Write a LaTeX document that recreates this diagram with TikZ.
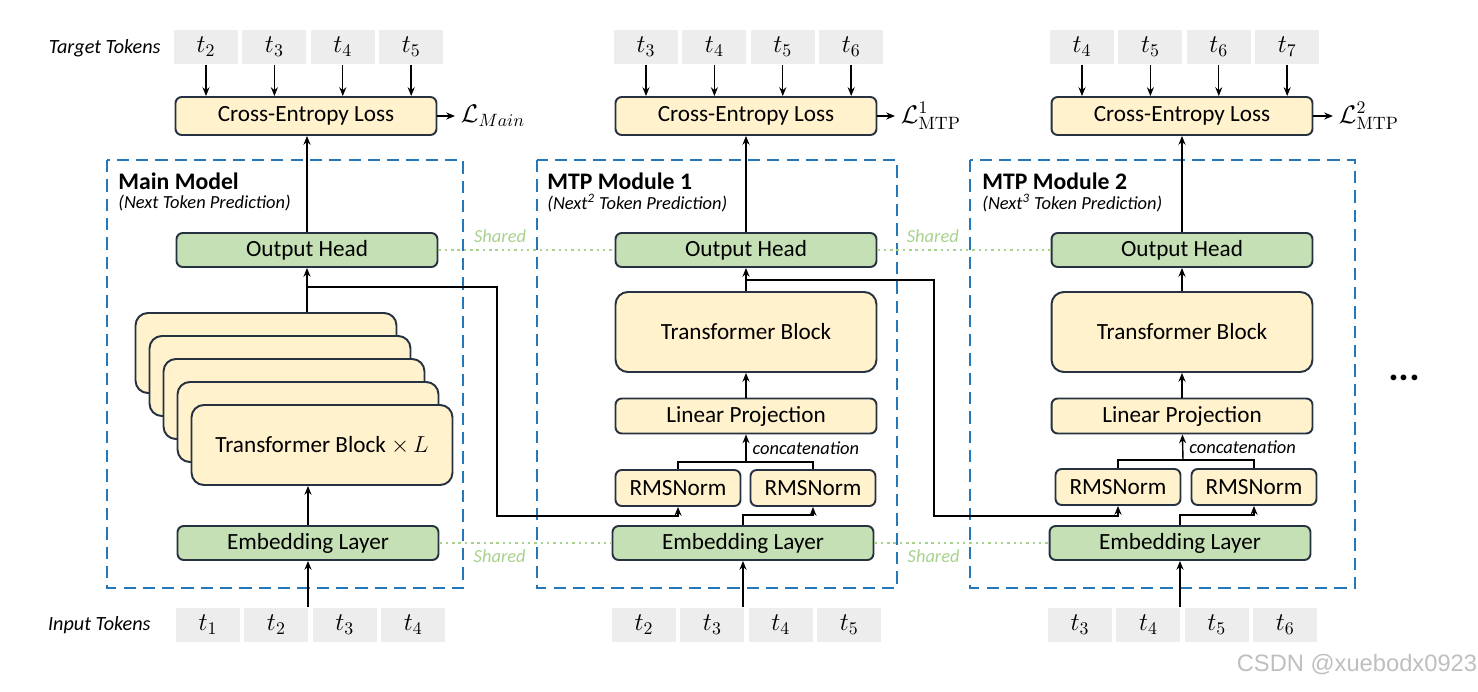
\RequirePackage{fix-cm}
\documentclass[tikz,border=0pt]{standalone}
\usepackage[no-math]{fontspec}
\setmainfont{Carlito}
\newfontfamily\wmfont{Liberation Sans}
\usetikzlibrary{arrows.meta,positioning}
\definecolor{bordc}{RGB}{38,50,66}
\definecolor{ylwc}{RGB}{255,242,204}
\definecolor{grnc}{RGB}{197,224,180}
\definecolor{tokc}{RGB}{237,237,237}
\definecolor{bluc}{RGB}{36,120,185}
\definecolor{shrc}{RGB}{169,209,142}

\begin{document}
\begin{tikzpicture}[x=0.02cm,y=-0.02cm,>={Stealth[length=5pt,width=4pt]},line width=0.8pt,
 font=\fontsize{13.2}{15}\selectfont,
 blk/.style={draw=bordc,line width=1.1pt,rounded corners=3.5pt,minimum width=5.22cm,minimum height=0.76cm,fill=ylwc},
 hd/.style={blk,fill=grnc,minimum height=0.68cm},
 tb/.style={blk,rounded corners=7pt,minimum height=1.6cm},
 rms/.style={blk,minimum width=2.5cm,minimum height=0.72cm},
 tok/.style={fill=tokc,minimum width=1.28cm,minimum height=0.68cm,inner sep=0pt,font=\fontsize{14.5}{16}\selectfont},
 mdl/.style={draw=bluc,line width=1.5pt,dash pattern=on 7pt off 4pt},
 shr/.style={draw=shrc,line width=1.4pt,dash pattern=on 1.4pt off 2.2pt},
 shl/.style={text=shrc,font=\fontsize{10.5}{12}\selectfont\itshape},
 cattxt/.style={font=\fontsize{10.5}{12}\selectfont\itshape},
 ttl/.style={anchor=west,inner sep=1pt,font=\fontsize{13.5}{15}\selectfont\bfseries},
 sub/.style={anchor=west,inner sep=1pt,font=\fontsize{10.5}{12}\selectfont\itshape},
 lbl/.style={anchor=east,inner sep=1pt,font=\fontsize{11.5}{13}\selectfont\itshape},
 loss/.style={anchor=west,inner sep=3pt,font=\fontsize{14.5}{16}\selectfont}]
\useasboundingbox (0,0) rectangle (1478,692);
% main model
\node[lbl] (tgt) at (163,48) {Target Tokens};
\node[tok] (tg0a) at (206,47) {$t_2$};
\node[tok,right=0.06cm of tg0a] (tg0b) {$t_3$};
\node[tok,right=0.06cm of tg0b] (tg0c) {$t_4$};
\node[tok,right=0.06cm of tg0c] (tg0d) {$t_5$};
\node[blk] (ce0) at (306,116) {Cross-Entropy Loss};
\node[loss] (loss0) at (455,116) {$\mathcal{L}_{Main}$};
\draw[mdl] (107,160) rectangle (463,588);
\node[ttl] (ttl0) at (116,181) {Main Model};
\node[sub] (sub0) at (116,203) {(Next Token Prediction)};
\node[hd] (head0) at (307,250) {Output Head};
\node[tb] (tb0a) at (266,353) {};
\node[tb] (tb0b) at (280,376) {};
\node[tb] (tb0c) at (294,399) {};
\node[tb] (tb0d) at (308,422) {};
\node[tb] (tb0e) at (322,445) {Transformer Block $\times\,L$};
\node[hd] (emb0) at (308,543) {Embedding Layer};
\node[lbl] (inp) at (153,625) {Input Tokens};
\node[tok] (in0a) at (208,625) {$t_1$};
\node[tok,right=0.06cm of in0a] (in0b) {$t_2$};
\node[tok,right=0.06cm of in0b] (in0c) {$t_3$};
\node[tok,right=0.06cm of in0c] (in0d) {$t_4$};
\draw[->] (tg0a) -- (tg0a |- ce0.north); \draw[->] (tg0b) -- (tg0b |- ce0.north);
\draw[->] (tg0c) -- (tg0c |- ce0.north); \draw[->] (tg0d) -- (tg0d |- ce0.north);
\draw[->] (ce0) -- (loss0);
\draw[->] (head0.north) -- (head0.north |- ce0.south);
\draw[->] (head0.south |- tb0a.north) -- (head0.south);
\draw[->] (emb0.north) -- (emb0.north |- tb0e.south);
\draw[->] (emb0.south |- in0c.north) -- (emb0.south);
% mtp module 1
\node[tok] (tg1a) at (646,47) {$t_3$};
\node[tok,right=0.06cm of tg1a] (tg1b) {$t_4$};
\node[tok,right=0.06cm of tg1b] (tg1c) {$t_5$};
\node[tok,right=0.06cm of tg1c] (tg1d) {$t_6$};
\node[blk] (ce1) at (746,116) {Cross-Entropy Loss};
\node[loss] (loss1) at (895,116) {$\mathcal{L}^{1}_{\mathrm{MTP}}$};
\draw[mdl] (537,160) rectangle (897,588);
\node[ttl] (ttl1) at (545,181) {MTP Module 1};
\node[sub] (sub1) at (545,203) {(Next\textsuperscript{2} Token Prediction)};
\node[hd] (head1) at (746,250) {Output Head};
\node[tb] (tb1) at (746,332) {Transformer Block};
\node[blk,minimum height=0.7cm] (lp1) at (746,416) {Linear Projection};
\node[rms] (rms1a) at (678,488) {RMSNorm};
\node[rms] (rms1b) at (813,488) {RMSNorm};
\node[hd] (emb1) at (743,543) {Embedding Layer};
\node[tok] (in1a) at (644,625) {$t_2$};
\node[tok,right=0.06cm of in1a] (in1b) {$t_3$};
\node[tok,right=0.06cm of in1b] (in1c) {$t_4$};
\node[tok,right=0.06cm of in1c] (in1d) {$t_5$};
\draw[->] (tg1a) -- (tg1a |- ce1.north); \draw[->] (tg1b) -- (tg1b |- ce1.north);
\draw[->] (tg1c) -- (tg1c |- ce1.north); \draw[->] (tg1d) -- (tg1d |- ce1.north);
\draw[->] (ce1) -- (loss1);
\draw[->] (head1) -- (ce1); \draw[->] (tb1) -- (head1); \draw[->] (lp1) -- (tb1);
\coordinate (cat1) at (746,462);
\draw (rms1a) |- (cat1) -| (rms1b);
\draw[->] (cat1) -- (lp1) node[cattxt,midway,right] {concatenation};
\draw[->] (emb1.north) -- ++(0,-10) -| (rms1b);
\draw[->] (emb1.south |- in1c.north) -- (emb1.south);
\coordinate (br0) at (307,287);
\draw[->] (br0) -| (497,516) -| (rms1a);
% mtp module 2
\node[tok] (tg2a) at (1082,47) {$t_4$};
\node[tok,right=0.06cm of tg2a] (tg2b) {$t_5$};
\node[tok,right=0.06cm of tg2b] (tg2c) {$t_6$};
\node[tok,right=0.06cm of tg2c] (tg2d) {$t_7$};
\node[blk] (ce2) at (1182,116) {Cross-Entropy Loss};
\node[loss] (loss2) at (1333,116) {$\mathcal{L}^{2}_{\mathrm{MTP}}$};
\draw[mdl] (970,160) rectangle (1355,588);
\node[ttl] (ttl2) at (980,181) {MTP Module 2};
\node[sub] (sub2) at (980,203) {(Next\textsuperscript{3} Token Prediction)};
\node[hd] (head2) at (1182,250) {Output Head};
\node[tb] (tb2) at (1182,332) {Transformer Block};
\node[blk,minimum height=0.7cm] (lp2) at (1182,416) {Linear Projection};
\node[rms] (rms2a) at (1118,487) {RMSNorm};
\node[rms] (rms2b) at (1254,487) {RMSNorm};
\node[hd] (emb2) at (1180,543) {Embedding Layer};
\node[tok] (in2a) at (1080,625) {$t_3$};
\node[tok,right=0.06cm of in2a] (in2b) {$t_4$};
\node[tok,right=0.06cm of in2b] (in2c) {$t_5$};
\node[tok,right=0.06cm of in2c] (in2d) {$t_6$};
\draw[->] (tg2a) -- (tg2a |- ce2.north); \draw[->] (tg2b) -- (tg2b |- ce2.north);
\draw[->] (tg2c) -- (tg2c |- ce2.north); \draw[->] (tg2d) -- (tg2d |- ce2.north);
\draw[->] (ce2) -- (loss2);
\draw[->] (head2) -- (ce2); \draw[->] (tb2) -- (head2); \draw[->] (lp2) -- (tb2);
\coordinate (cat2) at (1183,460);
\draw (rms2a) |- (cat2) -| (rms2b);
\draw[->] (cat2) -- (lp2) node[cattxt,midway,right] {concatenation};
\draw[->] (emb2.north) -- ++(0,-10) -| (rms2b);
\draw[->] (emb2.south |- in2c.north) -- (emb2.south);
\coordinate (br1) at (747,280);
\draw[->] (br1) -| (934,516) -| (rms2a);
% shared weights
\draw[shr] (head0) -- (head1) node[shl,pos=0.35,above] {Shared};
\draw[shr] (head1) -- (head2) node[shl,pos=0.32,above] {Shared};
\draw[shr] (emb0) -- (emb1) node[shl,pos=0.35,below] {Shared};
\draw[shr] (emb1) -- (emb2) node[shl,pos=0.34,below] {Shared};
\node (dots) at (1405,378) {\fontsize{22}{24}\selectfont\bfseries\itshape ...};
\node[text=black!25,font=\wmfont\fontsize{13.5}{15}\selectfont] (wmk) at (1357,665) {CSDN @xuebodx0923};
\end{tikzpicture}
\end{document}
